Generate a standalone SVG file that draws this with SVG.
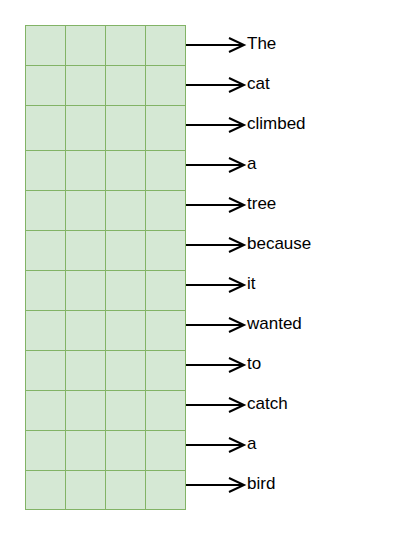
<svg xmlns="http://www.w3.org/2000/svg" width="411" height="537" viewBox="0 0 411 537">
<style>
.grid{fill:#d5e8d4;stroke:#82b366;stroke-width:1}
.gl{stroke:#82b366;stroke-width:1;fill:none}
.conn{stroke:#000;stroke-width:2;fill:none}
.lbl{font-family:"Liberation Sans",Arial,sans-serif;font-size:17px;fill:#000}
</style>
<defs>
<marker id="arr" markerUnits="userSpaceOnUse" viewBox="0 0 20 20" markerWidth="20" markerHeight="20" refX="17" refY="10" orient="auto">
<path d="M2,3 L17,10 L2,17" fill="none" stroke="#000" stroke-width="2"/>
</marker>
</defs>
<rect width="411" height="537" fill="#fff"/>
<g id="grid">
<rect class="grid" x="25.5" y="25.5" width="160" height="484"/>
<path class="gl" d="M65.5,25.5V509.5M105.5,25.5V509.5M145.5,25.5V509.5"/>
<path class="gl" d="M25.5,65.5H185.5M25.5,105.5H185.5M25.5,150.5H185.5M25.5,190.5H185.5M25.5,230.5H185.5M25.5,270.5H185.5M25.5,310.5H185.5M25.5,350.5H185.5M25.5,390.5H185.5M25.5,430.5H185.5M25.5,470.5H185.5"/>
</g>
<g id="connectors">
<line class="conn" x1="186" y1="45" x2="244" y2="45" marker-end="url(#arr)"/>
<line class="conn" x1="186" y1="85" x2="244" y2="85" marker-end="url(#arr)"/>
<line class="conn" x1="186" y1="125" x2="244" y2="125" marker-end="url(#arr)"/>
<line class="conn" x1="186" y1="165" x2="244" y2="165" marker-end="url(#arr)"/>
<line class="conn" x1="186" y1="205" x2="244" y2="205" marker-end="url(#arr)"/>
<line class="conn" x1="186" y1="245" x2="244" y2="245" marker-end="url(#arr)"/>
<line class="conn" x1="186" y1="285" x2="244" y2="285" marker-end="url(#arr)"/>
<line class="conn" x1="186" y1="325" x2="244" y2="325" marker-end="url(#arr)"/>
<line class="conn" x1="186" y1="365" x2="244" y2="365" marker-end="url(#arr)"/>
<line class="conn" x1="186" y1="405" x2="244" y2="405" marker-end="url(#arr)"/>
<line class="conn" x1="186" y1="445" x2="244" y2="445" marker-end="url(#arr)"/>
<line class="conn" x1="186" y1="485" x2="244" y2="485" marker-end="url(#arr)"/>
</g>
<g id="w1"><text class="lbl" x="247" y="49">The</text></g>
<g id="w2"><text class="lbl" x="247" y="89">cat</text></g>
<g id="w3"><text class="lbl" x="247" y="129">climbed</text></g>
<g id="w4"><text class="lbl" x="247" y="169">a</text></g>
<g id="w5"><text class="lbl" x="247" y="209">tree</text></g>
<g id="w6"><text class="lbl" x="247" y="249">because</text></g>
<g id="w7"><text class="lbl" x="247" y="289">it</text></g>
<g id="w8"><text class="lbl" x="247" y="329">wanted</text></g>
<g id="w9"><text class="lbl" x="247" y="369">to</text></g>
<g id="w10"><text class="lbl" x="247" y="409">catch</text></g>
<g id="w11"><text class="lbl" x="247" y="449">a</text></g>
<g id="w12"><text class="lbl" x="247" y="489">bird</text></g>
</svg>
